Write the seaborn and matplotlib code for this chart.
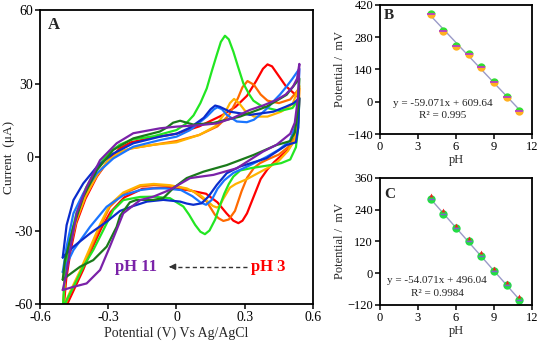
import matplotlib
matplotlib.use("Agg")
import matplotlib.pyplot as plt
import matplotlib.transforms as mtransforms
import seaborn as sns

sns.set_theme(style="ticks")
plt.rcParams["font.family"] = ["Liberation Serif", "DejaVu Serif"]

# --- panel A: cyclic voltammograms (potential V, current uA), closed loops ---
red_e = [-0.50, -0.485, -0.465, -0.44, -0.40, -0.35, -0.30, -0.25, -0.20, -0.10, 0.00, 0.10, 0.20, 0.26, 0.31,
         0.35, 0.38, 0.40, 0.42, 0.45, 0.48, 0.51, 0.54,
         0.535, 0.52, 0.49, 0.46, 0.43, 0.40, 0.37, 0.34, 0.31, 0.29, 0.272, 0.25, 0.22, 0.18, 0.13, 0.05,
         -0.05, -0.15, -0.23, -0.29, -0.33, -0.37, -0.41, -0.45, -0.49, -0.50]
red_i = [-66, -50, -38, -27, -17, -8, -1.5, 3.5, 6, 8, 9.5, 12.5, 17, 20.5, 25,
         31, 36, 37.8, 37, 33, 29, 26.5, 24,
         14, 7, 3, 0.5, -2, -5, -9, -16, -23, -26, -27, -26, -23, -18.5, -15, -13.5,
         -12.5, -13, -16.5, -22.5, -29, -37, -46, -54, -62, -66]

orange_e = [-0.50, -0.49, -0.47, -0.44, -0.40, -0.35, -0.30, -0.25, -0.20, -0.10, 0.00, 0.10, 0.18, 0.23, 0.27,
            0.29, 0.312, 0.34, 0.37, 0.40, 0.45, 0.50, 0.54,
            0.535, 0.52, 0.49, 0.45, 0.40, 0.367, 0.34, 0.31, 0.286, 0.257, 0.23, 0.206, 0.185, 0.169, 0.133,
            0.074, 0.0, -0.10, -0.16, -0.234, -0.293, -0.336, -0.38, -0.424, -0.468, -0.50]
orange_i = [-63, -50, -38, -26, -16, -7.5, -1.5, 2, 3.5, 5, 6.5, 9, 12.5, 17, 24,
            28.5, 31, 29.5, 25.5, 23, 22, 23.5, 28,
            15, 8, 4, 1, -1, -2.5, -4.5, -8.5, -14, -22, -25.5, -26.1, -25, -23.6, -18.2,
            -14, -12, -11.5, -12, -15, -20.3, -28.5, -38, -47.5, -55.7, -63]

gold_e = [-0.50, -0.49, -0.47, -0.44, -0.40, -0.35, -0.30, -0.25, -0.20, -0.10, 0.00, 0.10, 0.17, 0.21, 0.235,
          0.253, 0.275, 0.30, 0.34, 0.40, 0.46, 0.51, 0.54,
          0.535, 0.52, 0.49, 0.45, 0.41, 0.36, 0.31, 0.26, 0.235, 0.206, 0.19, 0.177, 0.16, 0.147, 0.104,
          0.045, -0.03, -0.10, -0.16, -0.234, -0.293, -0.336, -0.38, -0.424, -0.468, -0.50]
gold_i = [-62, -49, -37, -25.5, -16, -7.5, -1.5, 2, 3.5, 5, 6, 9, 12.5, 17.5, 22,
          23.7, 22, 19, 16.5, 16.5, 18.5, 21.5, 29,
          15, 7, 2.5, -1.5, -4, -6.5, -9, -11, -12.5, -17, -20, -20.6, -20, -18.9, -15.5,
          -12.8, -11.5, -11, -11.5, -14.5, -19.5, -27.5, -37, -46.5, -55, -62]

green_e = [-0.50, -0.49, -0.47, -0.44, -0.40, -0.35, -0.30, -0.25, -0.20, -0.10, 0.00, 0.04, 0.075, 0.105, 0.133,
           0.155, 0.177, 0.195, 0.213, 0.23, 0.25, 0.27, 0.294, 0.32, 0.338, 0.37, 0.40, 0.455, 0.51, 0.54,
           0.535, 0.525, 0.50, 0.46, 0.40, 0.33, 0.28, 0.25, 0.23, 0.21, 0.19, 0.17, 0.145, 0.125, 0.105,
           0.082, 0.055, 0.03, -0.029, -0.102, -0.16, -0.234, -0.278, -0.322, -0.366, -0.41, -0.453, -0.49, -0.50]
green_i = [-63, -46, -34, -23, -13, -4.5, 1.5, 5, 7, 8.5, 11, 13.5, 17, 22, 28,
           35, 41.7, 47, 49.5, 48, 43, 37, 30, 25.5, 23, 21, 20, 18.8, 20, 24,
           12, 4, -1, -2.5, -3.5, -4.5, -5.5, -8, -11, -15, -20, -25.5, -30, -31.5, -30.5,
           -27.7, -23.5, -20.2, -16.8, -16.2, -16.3, -17.6, -21.7, -29.9, -38, -44.8, -53, -59.8, -63]

lblue_e = [-0.50, -0.483, -0.453, -0.41, -0.35, -0.278, -0.19, -0.073, 0.0, 0.06, 0.133, 0.165, 0.18, 0.20, 0.221,
           0.265, 0.309, 0.34, 0.367, 0.40, 0.426, 0.455, 0.484, 0.51, 0.54,
           0.535, 0.52, 0.498, 0.45, 0.395, 0.32, 0.25, 0.21, 0.18, 0.155, 0.13, 0.105, 0.07, 0.02,
           -0.05, -0.102, -0.16, -0.234, -0.307, -0.38, -0.453, -0.50]
lblue_i = [-47, -36.6, -23, -14.9, -6.7, -0.6, 4.2, 6.9, 8.3, 11, 16.5, 19.5, 20.3, 19.5, 17.2,
           14.5, 14.2, 15.2, 17.2, 20, 22.7, 25.5, 28.8, 32, 36,
           22, 12, 6.5, 3, 0, -3.5, -6.5, -9.5, -13, -17.5, -19.5, -18.5, -16, -13.5,
           -12.8, -12.8, -13.5, -15.6, -20.3, -28.5, -38, -47]

dblue_e = [-0.50, -0.483, -0.453, -0.41, -0.35, -0.278, -0.19, -0.073, 0.0, 0.06, 0.12, 0.15, 0.17, 0.19, 0.235,
           0.323, 0.426, 0.48, 0.514, 0.54,
           0.535, 0.525, 0.484, 0.396, 0.279, 0.221, 0.177, 0.14, 0.11, 0.074, 0.045, 0.016, -0.058, -0.13,
           -0.19, -0.248, -0.307, -0.38, -0.453, -0.50]
dblue_i = [-41, -27.8, -17.6, -10.8, -4, 1.4, 5.6, 8.3, 9.5, 12, 16, 19.5, 21, 20.5, 18.5,
           17.2, 18.5, 20.5, 21.9, 24,
           12, 6, 4.9, -0.5, -3.9, -6.6, -11.4, -16.2, -18.9, -19.5, -19, -18.2, -17.5, -18.2,
           -20, -22, -26.4, -31.2, -36.6, -41]

dgreen_e = [-0.50, -0.49, -0.453, -0.41, -0.35, -0.278, -0.19, -0.073, -0.043, -0.015, 0.016, 0.045, 0.075, 0.162,
            0.279, 0.397, 0.484, 0.54,
            0.535, 0.52, 0.50, 0.44, 0.338, 0.221, 0.118, 0.045, -0.014, -0.058, -0.102, -0.175, -0.205,
            -0.248, -0.263, -0.307, -0.366, -0.424, -0.50]
dgreen_i = [-50, -42, -28.5, -16.3, -5.4, 2.9, 7.6, 10.4, 12, 14, 14.8, 14, 13.2, 13.9,
            16.5, 20.6, 25.4, 32,
            20, 10, 6.5, 4.9, 0.8, -3.3, -6, -8.6, -12.7, -16.8, -17.5, -17.5, -18.5,
            -24, -28.5, -36.6, -42.1, -44.8, -50]

purple_e = [-0.50, -0.485, -0.468, -0.439, -0.395, -0.336, -0.263, -0.19, -0.073, 0.0, 0.10, 0.176, 0.25, 0.322,
            0.38, 0.44, 0.48, 0.512, 0.53, 0.54,
            0.535, 0.52, 0.50, 0.44, 0.38, 0.265, 0.162, 0.06, -0.029, -0.102, -0.16, -0.234, -0.293, -0.336,
            -0.395, -0.453, -0.50]
purple_i = [-54.3, -48, -38, -23, -12.2, -1.3, 5.6, 9.7, 11.7, 12.4, 13, 13.7, 16, 19.2,
            21, 23.3, 25.5, 28.7, 32, 38,
            25, 14, 9.5, 5, 2.2, -4.6, -7.3, -8.6, -13.4, -16.2, -17.6, -23, -36.6, -46.1,
            -51.6, -53, -54.3]

# --- panels B and C: potential vs pH ---
ph = [4, 5, 6, 7, 8, 9, 10, 11]
pot_b = [381, 307, 240, 208, 153, 85, 22, -40]
pot_c = [282, 224, 170, 120, 66, 8, -45, -100]

fig = plt.figure(figsize=(5.39, 3.51), dpi=100)

# ---------------- panel A ----------------
ax = fig.add_axes([0.0742, 0.1339, 0.5065, 0.8376])
curves = [
    (red_e, red_i, "#ff0000"),
    (orange_e, orange_i, "#ff6a00"),
    (gold_e, gold_i, "#ffb300"),
    (green_e, green_i, "#22e622"),
    (lblue_e, lblue_i, "#1a75ff"),
    (dblue_e, dblue_i, "#0a2ccc"),
    (dgreen_e, dgreen_i, "#1a7a1a"),
    (purple_e, purple_i, "#7a22a8"),
]
for e, i, c in curves:
    # loops go out and back, so keep point order and skip aggregation
    sns.lineplot(x=e, y=i, sort=False, estimator=None, errorbar=None, color=c, lw=1.6, ax=ax)

ax.set_xlim(-0.6, 0.6)
ax.set_ylim(-60, 60)
ax.set_xticks([-0.6, -0.3, 0, 0.3, 0.6])
ax.set_xticklabels(["-0.6", "-0.3", "0", "0.3", "0.6"])
ax.set_yticks([-60, -30, 0, 30, 60])
ax.set_yticklabels(["-60", "-30", "0", "30", "60"])
ax.set_xlabel("Potential (V) Vs Ag/AgCl", fontsize=10, labelpad=2)
ax.set_ylabel("Current  (\u03bcA)", fontsize=9.5, labelpad=0)
ax.text(0.05, 0.95, "A", transform=ax.transAxes, fontsize=12, fontweight="bold", va="center", ha="center")

# pH direction arrow
ax.plot([0.31, -0.02], [-44.8, -44.8], ls=(0, (3, 2.2)), color="#333333", lw=1)
ax.annotate("", xy=(-0.045, -44.8), xytext=(-0.01, -44.8),
            arrowprops=dict(arrowstyle="-|>", color="#333333", lw=1, mutation_scale=9))
ax.text(-0.176, -44.8, "pH 11", color="#7a22a8", fontsize=12, fontweight="bold", ha="center", va="center")
ax.text(0.403, -44.8, "pH 3", color="#ff0000", fontsize=12, fontweight="bold", ha="center", va="center")

# ---------------- panel B ----------------
axb = fig.add_axes([0.705, 0.6182, 0.282, 0.3676])
sns.regplot(x=ph, y=pot_b, ci=None, scatter=False, ax=axb, line_kws=dict(color="#9a9ac8", lw=1))
axb.plot(ph, pot_b, ls="none", marker="o", ms=6, fillstyle="top",
         markerfacecolor="#33dd33", markerfacecoloralt="#ffb020", markeredgewidth=0)
axb.plot(ph, pot_b, ls="none", marker="_", ms=6, color="#c03cc0", mew=1.3)
axb.set_xlim(0, 12)
axb.set_ylim(-140, 420)
axb.set_xticks([0, 3, 6, 9, 12])
axb.set_yticks([-140, 0, 140, 280, 420])
axb.set_xlabel("pH", fontsize=9, labelpad=1)
axb.set_ylabel("Potential /  mV", fontsize=9, labelpad=1)
axb.text(0.06, 0.92, "B", transform=axb.transAxes, fontsize=11, fontweight="bold", va="center", ha="center")
axb.text(0.414, 0.24, "y = -59.071x + 609.64", transform=axb.transAxes, fontsize=8, ha="center", va="center")
axb.text(0.414, 0.14, "R\u00b2 = 0.995", transform=axb.transAxes, fontsize=8, ha="center", va="center")

# ---------------- panel C ----------------
axc = fig.add_axes([0.705, 0.1311, 0.282, 0.3618])
sns.regplot(x=ph, y=pot_c, ci=None, scatter=False, ax=axc, line_kws=dict(color="#9a9ac8", lw=1))
axc.plot(ph, pot_c, ls="none", marker="o", ms=6, color="#22dd44", markeredgewidth=0)
up = mtransforms.offset_copy(axc.transData, fig=fig, x=0, y=3.5, units="dots")
axc.plot(ph, pot_c, ls="none", marker="^", ms=2.8, color="#ee2222", markeredgewidth=0, transform=up)
axc.plot(ph, pot_c, ls="none", marker="_", ms=4.5, color="#8060d0", mew=1)
axc.set_xlim(0, 12)
axc.set_ylim(-120, 360)
axc.set_xticks([0, 3, 6, 9, 12])
axc.set_yticks([-120, 0, 120, 240, 360])
axc.set_xlabel("pH", fontsize=9, labelpad=1)
axc.set_ylabel("Potential /  mV", fontsize=9, labelpad=1)
axc.text(0.066, 0.87, "C", transform=axc.transAxes, fontsize=11, fontweight="bold", va="center", ha="center")
axc.text(0.375, 0.19, "y = -54.071x + 496.04", transform=axc.transAxes, fontsize=8, ha="center", va="center")
axc.text(0.38, 0.087, "R\u00b2 = 0.9984", transform=axc.transAxes, fontsize=8, ha="center", va="center")

for a, fs in [(ax, 10), (axb, 9), (axc, 9)]:
    for s in a.spines.values():
        s.set_visible(True)
        s.set_color("black")
        s.set_linewidth(1.3)
    a.tick_params(direction="out", length=3.5, width=1.1, labelsize=fs, pad=1.5, colors="black")
    a.grid(False)

fig.savefig("out.png", dpi=100)
